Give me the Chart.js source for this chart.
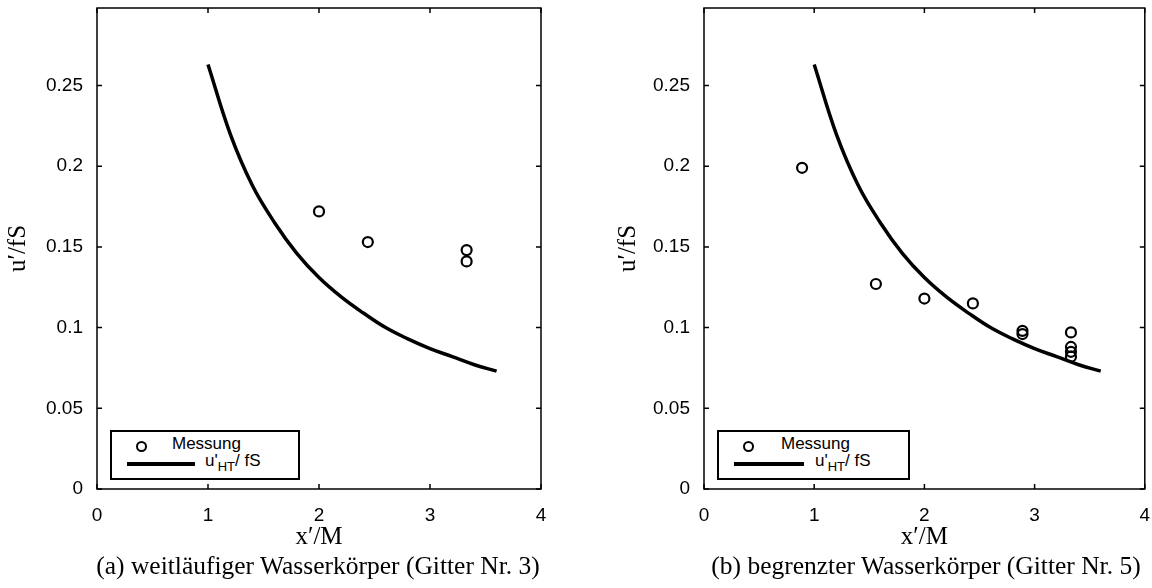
<!DOCTYPE html>
<html>
<head>
<meta charset="utf-8">
<script src="https://cdn.jsdelivr.net/npm/chart.js@4.4.1/dist/chart.umd.min.js"></script>
<style>
  body { margin: 0; background: #fff; width: 1152px; height: 588px; position: relative; overflow: hidden; }
  .panel { position: absolute; top: 0; width: 576px; height: 552px; }
  .caption { position: absolute; top: 551px; font-family: "Liberation Serif", serif; font-size: 25.5px; color: #000; white-space: nowrap; transform: translateX(-50%); }
  .legend { position: absolute; border: 2px solid #000; background: #fff; font-family: "Liberation Sans", Arial, sans-serif; font-size: 17px; color: #000; }
  .legend .dot { position: absolute; width: 7px; height: 7px; border: 2.2px solid #000; border-radius: 50%; }
  .legend .ln { position: absolute; height: 3.5px; background: #000; }
  .legend .txt { position: absolute; white-space: nowrap; }
  .legend sub { font-size: 13px; vertical-align: -5px; }
</style>
</head>
<body>
<div class="panel" style="left:0"><canvas id="chartA"></canvas></div>
<div class="panel" style="left:576px"><canvas id="chartB"></canvas></div>
<div class="caption" style="left:318px">(a) weitläufiger Wasserkörper (Gitter Nr. 3)</div>
<div class="caption" style="left:926px">(b) begrenzter Wasserkörper (Gitter Nr. 5)</div>

<div class="legend" style="left:110px; top:430px; width:186px; height:46px">
  <div class="dot" style="left:24px; top:9px"></div>
  <div class="txt" style="left:60px; top:2px">Messung</div>
  <div class="ln" style="left:15px; width:68px; top:30px"></div>
  <div class="txt" style="left:93px; top:19px">u'<sub>HT</sub>/ fS</div>
</div>
<div class="legend" style="left:717px; top:430px; width:189px; height:46px">
  <div class="dot" style="left:24px; top:9px"></div>
  <div class="txt" style="left:62px; top:2px">Messung</div>
  <div class="ln" style="left:15px; width:70px; top:30px"></div>
  <div class="txt" style="left:96px; top:19px">u'<sub>HT</sub>/ fS</div>
</div>

<script>
// theoretical decay curve u'_HT / fS (same in both panels)
const curveX = [1.0, 1.2, 1.4, 1.6, 1.8, 2.0, 2.2, 2.4, 2.6, 2.8, 3.0, 3.2, 3.4, 3.6];
const curveY = [0.263, 0.220, 0.188, 0.165, 0.146, 0.131, 0.119, 0.109, 0.100, 0.093, 0.087, 0.082, 0.077, 0.073];

// measurements, grid no. 3 (wide water body)
const measAX = [2.0, 2.44, 3.33, 3.33];
const measAY = [0.172, 0.153, 0.148, 0.141];

// measurements, grid no. 5 (bounded water body)
const measBX = [0.89, 1.56, 2.0, 2.44, 2.89, 2.89, 3.33, 3.33, 3.33, 3.33];
const measBY = [0.199, 0.127, 0.118, 0.115, 0.098, 0.096, 0.097, 0.088, 0.085, 0.082];

const xTicks = [0, 1, 2, 3, 4];
const yTicks = [0, 0.05, 0.1, 0.15, 0.2, 0.25];

const tickFont = { family: '"Liberation Sans", Arial, sans-serif', size: 19 };
const titleFont = { family: '"Liberation Serif", serif', size: 25 };

// MATLAB-like box with inward ticks on all four sides
const boxPlugin = {
    id: 'box',
    afterDraw(chart) {
        const { ctx, chartArea: a, scales } = chart;
        ctx.save();
        ctx.strokeStyle = '#000';
        ctx.lineWidth = 1.5;
        ctx.strokeRect(a.left, a.top, a.right - a.left, a.bottom - a.top);
        const len = 5;
        ctx.beginPath();
        xTicks.forEach(v => {
            const px = scales.x.getPixelForValue(v);
            ctx.moveTo(px, a.bottom); ctx.lineTo(px, a.bottom - len);
            ctx.moveTo(px, a.top); ctx.lineTo(px, a.top + len);
        });
        yTicks.forEach(v => {
            const py = scales.y.getPixelForValue(v);
            ctx.moveTo(a.left, py); ctx.lineTo(a.left + len, py);
            ctx.moveTo(a.right, py); ctx.lineTo(a.right - len, py);
        });
        ctx.stroke();
        ctx.restore();
    }
};

function makeChart(id, mx, my, padLeft, yWidth, padRight) {
    const ctx = document.getElementById(id).getContext('2d');
    return new Chart(ctx, {
        type: 'scatter',
        data: {
            datasets: [
                {
                    label: 'Messung',
                    data: mx.map((x, i) => ({ x: x, y: my[i] })),
                    pointStyle: 'circle',
                    pointRadius: 5,
                    borderColor: '#000',
                    borderWidth: 2.2,
                    backgroundColor: 'rgba(0,0,0,0)'
                },
                {
                    label: "u'HT/ fS",
                    data: curveX.map((x, i) => ({ x: x, y: curveY[i] })),
                    showLine: true,
                    pointRadius: 0,
                    borderColor: '#000',
                    borderWidth: 3.5,
                    tension: 0.4,
                    fill: false
                }
            ]
        },
        options: {
            responsive: true,
            maintainAspectRatio: false,
            animation: false,
            layout: { padding: { left: padLeft, right: padRight, top: 8, bottom: 0 } },
            plugins: { legend: { display: false }, tooltip: { enabled: false } },
            scales: {
                x: {
                    type: 'linear',
                    min: 0,
                    max: 4,
                    afterBuildTicks: s => { s.ticks = xTicks.map(v => ({ value: v })); },
                    afterFit: s => { s.height = 63; s.paddingLeft = 0; s.paddingRight = 0; },
                    ticks: { color: '#000', font: tickFont, padding: 7, callback: v => String(v) },
                    grid: { display: false },
                    border: { display: false },
                    title: { display: true, text: 'x\u2032/M', color: '#000', font: titleFont, padding: { top: 0, bottom: 0 } }
                },
                y: {
                    type: 'linear',
                    min: 0,
                    max: 0.298,
                    afterBuildTicks: s => { s.ticks = yTicks.map(v => ({ value: v })); },
                    afterFit: s => { s.width = yWidth; s.paddingTop = 0; s.paddingBottom = 0; },
                    ticks: { color: '#000', font: tickFont, padding: 6, callback: v => String(v) },
                    grid: { display: false },
                    border: { display: false },
                    title: { display: true, text: 'u\u2032/fS', color: '#000', font: titleFont, padding: { top: 3, bottom: 4 } }
                }
            }
        },
        plugins: [boxPlugin]
    });
}

makeChart('chartA', measAX, measAY, 0, 97, 35);
makeChart('chartB', measBX, measBY, 34, 94, 4);
</script>
</body>
</html>
